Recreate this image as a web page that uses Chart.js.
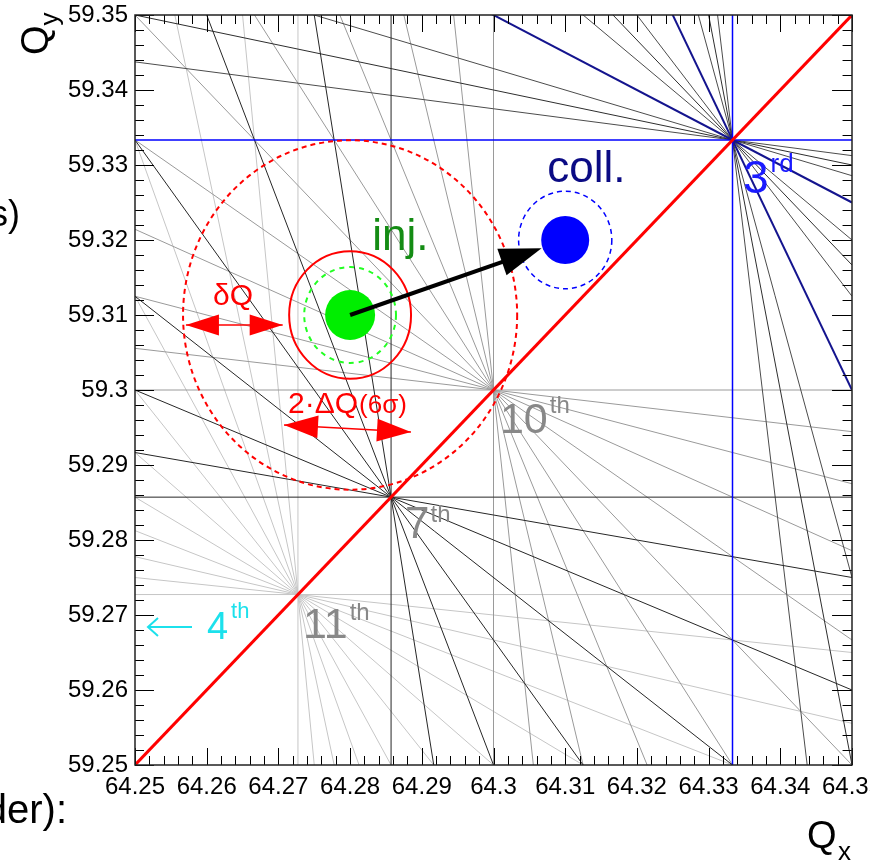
<!DOCTYPE html>
<html>
<head>
<meta charset="utf-8">
<title>Tune diagram</title>
<script src="https://cdn.jsdelivr.net/npm/chart.js@4.4.1/dist/chart.umd.min.js"></script>
<style>
    html, body { margin: 0; padding: 0; background: #fff; }
    #wrap { width: 870px; height: 862px; position: relative; }
</style>
</head>
<body>
<div id="wrap"><canvas id="tune" width="870" height="862"></canvas></div>
<script>
// Axis ticks
const xTickValues = [64.25, 64.26, 64.27, 64.28, 64.29, 64.30, 64.31, 64.32, 64.33, 64.34, 64.35];
const xTickLabels = ['64.25', '64.26', '64.27', '64.28', '64.29', '64.3', '64.31', '64.32', '64.33', '64.34', '64.35'];
const yTickValues = [59.25, 59.26, 59.27, 59.28, 59.29, 59.30, 59.31, 59.32, 59.33, 59.34, 59.35];
const yTickLabels = ['59.25', '59.26', '59.27', '59.28', '59.29', '59.3', '59.31', '59.32', '59.33', '59.34', '59.35'];

// Resonance lines m*Qx + n*Qy = p, one list per order
const order3Lines = [[3, 0, 193], [2, 1, 188], [1, 2, 183], [0, 3, 178]];
const order6Lines = [[5, 1, 381], [3, 3, 371], [1, 5, 361]];
const order7Lines = [[7, 0, 450], [6, 1, 445], [5, 2, 440], [4, 3, 435], [3, 4, 430], [2, 5, 425], [1, 6, 420], [0, 7, 415]];
const order9Lines = [[8, 1, 574], [7, 2, 569], [5, 4, 559], [4, 5, 554], [2, 7, 544], [1, 8, 539]];
const order10Lines = [[10, 0, 643], [9, 1, 638], [8, 2, 633], [7, 3, 628], [6, 4, 623], [5, 5, 618],
                      [4, 6, 613], [3, 7, 608], [2, 8, 603], [1, 9, 598], [0, 10, 593]];
const order11Lines = [[11, 0, 707], [10, 1, 702], [9, 2, 697], [8, 3, 692], [7, 4, 687], [6, 5, 682],
                      [5, 6, 677], [4, 7, 672], [3, 8, 667], [2, 9, 662], [1, 10, 657], [0, 11, 652]];

// Coupling line Qx - Qy = 5
const couplingQx = [64.25, 64.35];
const couplingQy = [59.25, 59.35];

// Working points
const injTune = [64.28, 59.31];
const collTune = [64.31, 59.32];

// Circle radii around working points (tune units)
const tuneSpread6Sigma = 0.0233;
const injFootprint = 0.0085;
const injSpread = 0.0064;
const collSpread = 0.0065;

const X_MIN = xTickValues[0], X_MAX = xTickValues[xTickValues.length - 1];
const Y_MIN = yTickValues[0], Y_MAX = yTickValues[yTickValues.length - 1];

Chart.defaults.font.family = '"Liberation Sans", Arial, sans-serif';

function resonanceDataset(line, color, width, order) {
    const [m, n, p] = line;
    let pts;
    if (n === 0) {
        pts = [{ x: p / m, y: Y_MIN }, { x: p / m, y: Y_MAX }];
    } else {
        pts = [X_MIN, X_MAX].map(qx => ({ x: qx, y: (p - m * qx) / n }));
    }
    return {
        data: pts,
        showLine: true,
        borderColor: color,
        borderWidth: width,
        pointRadius: 0,
        tension: 0,
        order: order
    };
}

const datasets = [];
order11Lines.forEach(l => datasets.push(resonanceDataset(l, '#c6c6c6', 1, 60)));
order10Lines.forEach(l => datasets.push(resonanceDataset(l, '#9a9a9a', 1, 50)));
order9Lines.forEach(l => datasets.push(resonanceDataset(l, '#4c4c4c', 1, 40)));
order6Lines.forEach(l => datasets.push(resonanceDataset(l, '#2e2e2e', 1, 35)));
order7Lines.forEach(l => datasets.push(resonanceDataset(l, '#262626', 1, 30)));
order3Lines.forEach(l => {
    const straight = l[0] === 0 || l[1] === 0;
    datasets.push(resonanceDataset(l, straight ? '#0000ff' : '#14148e', straight ? 1.5 : 2, 20));
});

// coupling line
datasets.push({
    data: couplingQx.map((qx, i) => ({ x: qx, y: couplingQy[i] })),
    showLine: true,
    borderColor: '#ff0000',
    borderWidth: 3,
    pointRadius: 0,
    order: 10
});

// working points
datasets.push({
    data: [{ x: injTune[0], y: injTune[1] }],
    pointRadius: 25,
    pointBackgroundColor: '#00ee00',
    pointBorderWidth: 0,
    order: 1
});
datasets.push({
    data: [{ x: collTune[0], y: collTune[1] }],
    pointRadius: 24,
    pointBackgroundColor: '#0000ff',
    pointBorderWidth: 0,
    order: 1
});

// Drawing helpers
function arrowHead(ctx, tx, ty, fx, fy, len, half) {
    const a = Math.atan2(ty - fy, tx - fx);
    ctx.beginPath();
    ctx.moveTo(tx, ty);
    ctx.lineTo(tx - len * Math.cos(a) + half * Math.sin(a), ty - len * Math.sin(a) - half * Math.cos(a));
    ctx.lineTo(tx - len * Math.cos(a) - half * Math.sin(a), ty - len * Math.sin(a) + half * Math.cos(a));
    ctx.closePath();
    ctx.fill();
}

function text(ctx, str, x, y, size, color, align) {
    ctx.font = size + 'px "Liberation Sans", Arial, sans-serif';
    ctx.fillStyle = color;
    ctx.textAlign = align || 'left';
    ctx.textBaseline = 'alphabetic';
    ctx.fillText(str, x, y);
    return ctx.measureText(str).width;
}

function labelWithSup(ctx, base, sup, x, y, size, supSize, rise, gap, color) {
    const w = text(ctx, base, x, y, size, color);
    text(ctx, sup, x + w + gap, y - rise, supSize, color);
}

const decorPlugin = {
    id: 'decor',
    afterDatasetsDraw(chart) {
        const ctx = chart.ctx;
        const xs = chart.scales.x, ys = chart.scales.y;
        const px = v => xs.getPixelForValue(v);
        const py = v => ys.getPixelForValue(v);
        const { left, right, top, bottom } = chart.chartArea;

        ctx.save();
        ctx.beginPath();
        ctx.rect(left, top, right - left, bottom - top);
        ctx.clip();

        // circles around the working points
        const circle = (c, r, color, width, dash) => {
            const cx = px(c[0]), cy = py(c[1]);
            const rx = px(c[0] + r) - cx, ry = cy - py(c[1] + r);
            ctx.beginPath();
            ctx.setLineDash(dash);
            ctx.strokeStyle = color;
            ctx.lineWidth = width;
            ctx.ellipse(cx, cy, rx, ry, 0, 0, Math.PI * 2);
            ctx.stroke();
        };
        circle(injTune, tuneSpread6Sigma, '#ff0000', 2, [5, 4]);
        circle(injTune, injFootprint, '#ff0000', 2, []);
        circle(injTune, injSpread, '#22ff22', 2, [5, 5]);
        circle(collTune, collSpread, '#0000ff', 1.5, [5, 4]);
        ctx.setLineDash([]);

        // arrow injection -> collision
        const ix = px(injTune[0]), iy = py(injTune[1]);
        const cx = px(collTune[0]), cy = py(collTune[1]);
        const d = Math.hypot(cx - ix, cy - iy);
        const tx = cx - (cx - ix) / d * 25, ty = cy - (cy - iy) / d * 25;
        ctx.strokeStyle = '#000';
        ctx.fillStyle = '#000';
        ctx.lineWidth = 4;
        ctx.beginPath();
        ctx.moveTo(ix, iy);
        ctx.lineTo(tx - (cx - ix) / d * 30, ty - (cy - iy) / d * 30);
        ctx.stroke();
        arrowHead(ctx, tx, ty, ix, iy, 42, 14);

        // double arrows (red)
        const dbl = (x1, y1, x2, y2, len, half) => {
            const a = px(x1), b = py(y1), c = px(x2), e = py(y2);
            ctx.strokeStyle = '#ff0000';
            ctx.fillStyle = '#ff0000';
            ctx.lineWidth = 1.5;
            ctx.beginPath();
            ctx.moveTo(a, b);
            ctx.lineTo(c, e);
            ctx.stroke();
            arrowHead(ctx, a, b, c, e, len, half);
            arrowHead(ctx, c, e, a, b, len, half);
        };
        dbl(64.2571, 59.30867, 64.2706, 59.30867, 33, 10.5);
        dbl(64.27078, 59.29533, 64.28849, 59.2944, 34, 11.5);

        // 4th order pointer
        ctx.strokeStyle = '#1ce1ec';
        ctx.lineWidth = 2;
        const ax1 = px(64.25181), ax2 = px(64.25795), ay = py(59.2684);
        ctx.beginPath();
        ctx.moveTo(ax2, ay);
        ctx.lineTo(ax1, ay);
        ctx.moveTo(ax1 + 10, ay - 9);
        ctx.lineTo(ax1, ay);
        ctx.lineTo(ax1 + 10, ay + 9);
        ctx.stroke();

        // labels inside the frame
        text(ctx, 'inj.', px(64.2831), py(59.3187), 44, '#148c14');
        text(ctx, 'coll.', px(64.3075), py(59.3277), 44, '#0b0b84');
        labelWithSup(ctx, '3', 'rd', px(64.3348), py(59.3263), 46, 26, 21, 2, '#1a1aff');
        labelWithSup(ctx, '10', 'th', px(64.3009), py(59.29427), 43, 24, 20, 2, '#888888');
        labelWithSup(ctx, '7', 'th', px(64.28766), py(59.28027), 44, 24, 16, 1, '#888888');
        labelWithSup(ctx, '11', 'th', px(64.27343), py(59.26693), 43, 24, 18, 2, '#888888');
        labelWithSup(ctx, '4', 'th', px(64.26004), py(59.2668), 38, 22, 21, 3, '#1ce1ec');
        text(ctx, 'δQ', px(64.26088), py(59.31133), 30, '#ff0000');
        const w = text(ctx, '2·ΔQ', px(64.27134), py(59.29693), 30, '#ff0000');
        text(ctx, '(6σ)', px(64.27134) + w + 1, py(59.29693), 26, '#ff0000');

        ctx.restore();
    },
    afterDraw(chart) {
        const ctx = chart.ctx;
        const xs = chart.scales.x, ys = chart.scales.y;
        const { left, right, top, bottom } = chart.chartArea;
        ctx.save();

        // ticks on all four sides (5 subdivisions per label)
        ctx.strokeStyle = '#000';
        ctx.lineWidth = 1;
        ctx.beginPath();
        for (let i = 0; i <= 50; i++) {
            const major = i % 5 === 0;
            const x = Math.round(xs.getPixelForValue(X_MIN + i * 0.002)) + 0.5;
            const y = Math.round(ys.getPixelForValue(Y_MIN + i * 0.002)) + 0.5;
            const lx = major ? 17 : 9, ly = major ? 19 : 9;
            ctx.moveTo(x, bottom); ctx.lineTo(x, bottom - lx);
            ctx.moveTo(x, top); ctx.lineTo(x, top + lx);
            ctx.moveTo(left, y); ctx.lineTo(left + ly, y);
            ctx.moveTo(right, y); ctx.lineTo(right - ly * 1.05, y);
        }
        ctx.stroke();

        // frame
        ctx.strokeStyle = '#222';
        ctx.lineWidth = 1.5;
        ctx.strokeRect(left, top, right - left, bottom - top);

        // axis titles
        text(ctx, 'Q', 807, 848, 38, '#000');
        text(ctx, 'x', 838, 860, 26, '#000');
        ctx.translate(48, 55);
        ctx.rotate(-Math.PI / 2);
        const qw = text(ctx, 'Q', 0, 0, 38, '#000');
        text(ctx, 'y', qw, 10, 26, '#000');
        ctx.setTransform(1, 0, 0, 1, 0, 0);

        // text cut by the slide border
        text(ctx, 's)', 20, 226, 36, '#000', 'right');
        text(ctx, 'der):', 67, 823, 40, '#000', 'right');

        ctx.restore();
    }
};

new Chart(document.getElementById('tune'), {
    type: 'scatter',
    data: { datasets: datasets },
    options: {
        responsive: false,
        animation: false,
        devicePixelRatio: 1,
        layout: {
            autoPadding: false,
            padding: { top: 15, right: 18, left: 0, bottom: 0 }
        },
        plugins: {
            legend: { display: false },
            tooltip: { enabled: false }
        },
        scales: {
            x: {
                type: 'linear',
                min: X_MIN,
                max: X_MAX,
                grid: { display: false, drawTicks: false },
                border: { display: false },
                afterBuildTicks: axis => { axis.ticks = xTickValues.map(v => ({ value: v })); },
                afterFit: axis => {
                    axis.height = 97;
                    axis.paddingLeft = 0;
                    axis.paddingRight = 0;
                },
                ticks: {
                    autoSkip: false,
                    maxRotation: 0,
                    padding: 8,
                    color: '#000',
                    font: { size: 24 },
                    callback: (value, index) => xTickLabels[index]
                }
            },
            y: {
                type: 'linear',
                min: Y_MIN,
                max: Y_MAX,
                grid: { display: false, drawTicks: false },
                border: { display: false },
                afterBuildTicks: axis => { axis.ticks = yTickValues.map(v => ({ value: v })); },
                afterFit: axis => {
                    axis.width = 135;
                    axis.paddingTop = 0;
                    axis.paddingBottom = 0;
                },
                ticks: {
                    autoSkip: false,
                    padding: 7,
                    color: '#000',
                    font: { size: 24 },
                    callback: (value, index) => yTickLabels[index]
                }
            }
        }
    },
    plugins: [decorPlugin]
});
</script>
</body>
</html>
